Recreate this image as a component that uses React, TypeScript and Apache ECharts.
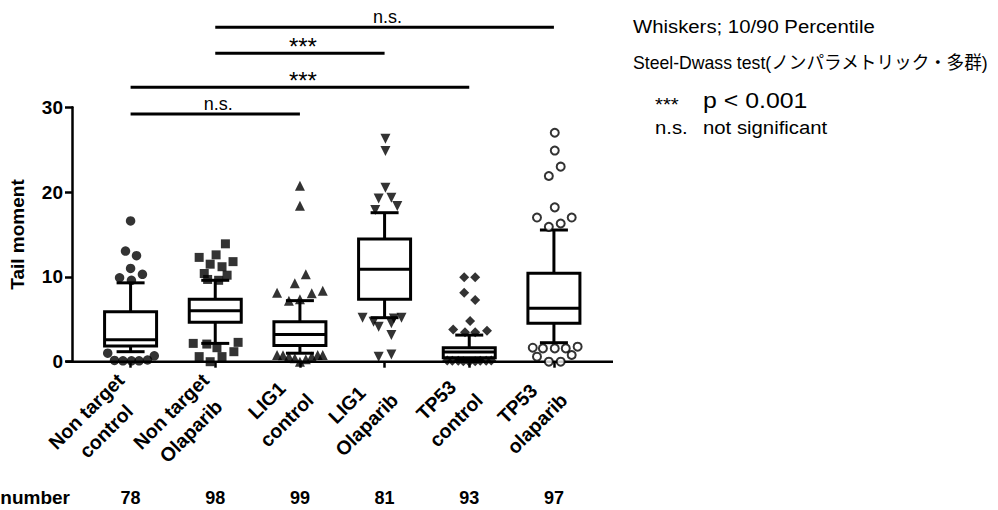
import React, { useEffect, useRef } from "react";
import * as echarts from "echarts";

const FONT = "'Liberation Sans', Arial, 'Noto Sans CJK JP', sans-serif";

const categories = [
  "Non target\ncontrol",
  "Non target\nOlaparib",
  "LIG1\ncontrol",
  "LIG1\nOlaparib",
  "TP53\ncontrol",
  "TP53\nolaparib",
];
const cellCounts = ["78", "98", "99", "81", "93", "97"];
const yMin = 0;
const yMax = 30;
const yInterval = 10;

// [10th percentile, Q1, median, Q3, 90th percentile]
const boxStats = [
  [1.18, 1.85, 2.6, 5.9, 9.3],
  [2.16, 4.64, 6.0, 7.35, 9.6],
  [1.0, 1.9, 3.2, 4.7, 7.2],
  [5.19, 7.35, 10.9, 14.47, 17.57],
  [0.2, 0.47, 1.14, 1.65, 3.14],
  [2.24, 4.52, 6.29, 10.42, 15.53],
];

// outliers: [horizontal jitter (fraction of category), value]
const ntControlOut = [
  [0, 16.6], [-0.06, 13.05], [0.07, 12.5], [0, 11.0], [0.14, 10.3], [-0.13, 9.9], [0.01, 9.6],
  [-0.27, 1.0], [0.28, 0.7], [-0.19, 0.15], [-0.09, 0.1], [0.01, 0.1], [0.1, 0.1], [0.2, 0.2],
];
const ntOlaparibOut = [
  [0.12, 13.9], [-0.19, 12.3], [0.01, 12.6], [-0.06, 11.5], [0.08, 11.2], [0.21, 11.8], [-0.13, 10.4],
  [0.14, 10.2], [-0.09, 9.7], [0.04, 9.6], [-0.26, 2.16], [-0.1, 2.08], [0.27, 2.28], [0.02, 1.65],
  [0.22, 1.18], [-0.19, 0.6], [0.08, 0.6], [-0.06, 0.0],
];
const lig1ControlOut = [
  [0, 20.75], [0, 18.4], [0.07, 10.3], [-0.06, 9.24], [-0.27, 8.14], [0.14, 8.06], [0.27, 8.37],
  [-0.13, 7.2], [0, 7.35], [-0.27, 0.8], [-0.2, 0.75], [-0.13, 0.6], [-0.06, 0.4], [0, 0.0],
  [0.07, 0.3], [0.14, 0.6], [0.21, 0.8], [0.27, 0.8],
];
const lig1OlaparibOut = [
  [0.01, 26.3], [0.01, 24.85], [0.01, 20.5], [-0.07, 19.26], [0.08, 19.34], [0.15, 18.36], [-0.11, 17.9],
  [-0.26, 5.19], [0.2, 5.19], [-0.13, 4.72], [-0.07, 4.13], [0.08, 4.52], [0.11, 5.1], [0.08, 3.14],
  [-0.07, 0.59], [0.08, 0.86],
];
const tp53ControlOut = [
  [-0.06, 9.95], [0.07, 9.95], [-0.06, 8.14], [0.07, 7.27], [0.01, 4.8], [-0.19, 3.81], [0.21, 3.66],
  [-0.05, 3.46], [0.07, 3.46], [-0.26, 0.15], [-0.2, 0.1], [-0.13, 0.1], [-0.07, 0.05], [0, 0.0],
  [0.07, 0.05], [0.13, 0.1], [0.2, 0.1], [0.26, 0.15],
];
const tp53OlaparibOut = [
  [0.01, 27.0], [0.01, 24.9], [0.08, 23.0], [-0.06, 21.9], [0.01, 18.2], [-0.2, 17.0], [0.21, 17.0],
  [0.08, 16.3], [-0.06, 15.9], [-0.25, 1.65], [-0.13, 1.57], [0.01, 1.57], [0.14, 1.57], [0.28, 1.77],
  [-0.2, 0.59], [0.21, 0.79], [-0.06, 0.0], [0.08, 0.0],
];
const outlierGroups = [ntControlOut, ntOlaparibOut, lig1ControlOut, lig1OlaparibOut, tp53ControlOut, tp53OlaparibOut];

// significance comparisons: [from category, to category, bar level, label]
const sigFrom = [0, 0, 1, 1];
const sigTo = [2, 4, 3, 5];
const sigLevel = [29.21, 32.36, 36.37, 39.45];
const sigLabel = ["n.s.", "***", "***", "n.s."];

const symbolStyles = [
  { symbol: "circle", symbolSize: 9.5, symbolRotate: 0, itemStyle: { color: "#000" } },
  { symbol: "rect", symbolSize: 9, symbolRotate: 0, itemStyle: { color: "#000" } },
  { symbol: "triangle", symbolSize: 10, symbolRotate: 0, itemStyle: { color: "#000" } },
  { symbol: "triangle", symbolSize: 10, symbolRotate: 180, itemStyle: { color: "#000" } },
  { symbol: "diamond", symbolSize: 10, symbolRotate: 0, itemStyle: { color: "#000" } },
  { symbol: "circle", symbolSize: 8, symbolRotate: 0, itemStyle: { color: "#fff", borderColor: "#000", borderWidth: 2 } },
];

export default function App() {
  const ref = useRef<HTMLDivElement>(null);
  useEffect(() => {
    if (!ref.current) return;
    const chart = echarts.init(ref.current, null, { renderer: "svg" });
    const option: any = {
      animation: false,
      backgroundColor: "#fff",
      grid: { left: 83.25, top: 107.3, width: 513, height: 254.4, containLabel: false },
      xAxis: [
        {
          type: "category",
          data: categories,
          boundaryGap: true,
          axisLine: { show: false, onZero: false },
          axisTick: { show: true, alignWithLabel: true, length: 6, lineStyle: { color: "#000", width: 2.5 } },
          axisLabel: {
            interval: 0,
            rotate: 45,
            margin: 25,
            color: "#000",
            formatter: (v: string) => v.split("\n").map((s) => `{c|${s}}`).join("\n"),
            rich: {
              c: { align: "center", fontSize: 19.5, fontWeight: "bold", fontFamily: FONT, color: "#000", lineHeight: 28 },
            },
          },
          splitLine: { show: false },
        },
        {
          type: "category",
          data: cellCounts,
          position: "bottom",
          offset: 119,
          axisLine: { show: false, onZero: false },
          axisTick: { show: false },
          axisLabel: { interval: 0, fontSize: 18, fontWeight: "bold", fontFamily: FONT, color: "#000", margin: 8 },
          splitLine: { show: false },
        },
        { type: "value", min: -0.5, max: 5.5, show: false, axisLine: { onZero: false } },
      ],
      yAxis: {
        type: "value",
        min: yMin,
        max: yMax,
        interval: yInterval,
        offset: 16.25,
        axisLine: { show: true, onZero: false, lineStyle: { color: "#000", width: 2.5 } },
        axisTick: { show: true, length: 7, lineStyle: { color: "#000", width: 2.5 } },
        axisLabel: { fontSize: 19, fontWeight: "bold", fontFamily: FONT, color: "#000", margin: 9 },
        splitLine: { show: false },
        name: "Tail moment",
        nameLocation: "middle",
        nameGap: 45,
        nameTextStyle: { fontSize: 19, fontWeight: "bold", fontFamily: FONT, color: "#000" },
      },
      series: [
        {
          type: "custom",
          xAxisIndex: 0,
          yAxisIndex: 0,
          data: boxStats.map((s, i) => [i, ...s]),
          encode: { x: 0, y: [1, 2, 3, 4, 5] },
          z: 2,
          renderItem: (params: any, api: any) => {
            const i = api.value(0);
            const pt = (k: number) => api.coord([i, api.value(k)]);
            const [cx, yLo] = pt(1);
            const yQ1 = pt(2)[1];
            const yMed = pt(3)[1];
            const yQ3 = pt(4)[1];
            const yHi = pt(5)[1];
            const hw = 26;
            const cw = 14;
            const st = { stroke: "#000", lineWidth: 3, fill: null };
            return {
              type: "group",
              children: [
                { type: "line", shape: { x1: cx, y1: yHi, x2: cx, y2: yQ3 }, style: st },
                { type: "line", shape: { x1: cx, y1: yQ1, x2: cx, y2: yLo }, style: st },
                { type: "line", shape: { x1: cx - cw, y1: yHi, x2: cx + cw, y2: yHi }, style: st },
                { type: "line", shape: { x1: cx - cw, y1: yLo, x2: cx + cw, y2: yLo }, style: st },
                { type: "rect", shape: { x: cx - hw, y: yQ3, width: 2 * hw, height: yQ1 - yQ3 }, style: { stroke: "#000", lineWidth: 3, fill: "#fff" } },
                { type: "line", shape: { x1: cx - hw, y1: yMed, x2: cx + hw, y2: yMed }, style: st },
              ],
            };
          },
        },
        ...outlierGroups.map((pts, gi) => ({
          type: "scatter",
          xAxisIndex: 2,
          yAxisIndex: 0,
          clip: false,
          z: 3,
          symbol: symbolStyles[gi].symbol,
          symbolSize: symbolStyles[gi].symbolSize,
          symbolRotate: symbolStyles[gi].symbolRotate,
          itemStyle: symbolStyles[gi].itemStyle,
          data: pts.map(([dx, v]) => [gi + dx, v]),
        })),
      ],
    };
    chart.setOption(option);

    const toPx = (x: number, y: number) => chart.convertToPixel({ xAxisIndex: 2, yAxisIndex: 0 } as any, [x, y]) as number[];
    const y0 = toPx(0, 0)[1];
    const graphics: any[] = [];
    // x axis line (extends past the category band like the original)
    graphics.push({ type: "line", shape: { x1: 66, y1: y0, x2: 613, y2: y0 }, style: { stroke: "#000", lineWidth: 2.5 } });
    sigFrom.forEach((f, k) => {
      const [x1, yy] = toPx(f, sigLevel[k]);
      const [x2] = toPx(sigTo[k], sigLevel[k]);
      graphics.push({ type: "line", shape: { x1, y1: yy, x2, y2: yy }, style: { stroke: "#000", lineWidth: 3 } });
      const isStar = sigLabel[k] === "***";
      graphics.push({
        type: "text",
        x: (x1 + x2) / 2 + 3,
        y: isStar ? yy - 7 : yy - 10,
        style: {
          text: sigLabel[k],
          fontSize: isStar ? 24 : 18,
          fontFamily: FONT,
          fill: "#000",
          textAlign: "center",
          textVerticalAlign: "middle",
        },
      });
    });
    const legendText = (text: string, x: number, y: number, size: number, sx: number) => ({
      type: "text",
      x,
      y,
      scaleX: sx,
      style: { text, fontSize: size, fontFamily: FONT, fill: "#000", textAlign: "left", textVerticalAlign: "middle" },
    });
    graphics.push(legendText("Whiskers; 10/90 Percentile", 633, 27, 18, 1.13));
    graphics.push(legendText("Steel-Dwass test(ノンパラメトリック・多群)", 633, 63, 18, 0.98));
    graphics.push(legendText("***", 655, 105, 18, 1.13));
    graphics.push(legendText("p < 0.001", 703, 101, 22, 1.13));
    graphics.push(legendText("n.s.", 655, 128, 18, 1.13));
    graphics.push(legendText("not significant", 703, 128, 18, 1.13));
    graphics.push({
      type: "text",
      x: 70,
      y: 497,
      style: { text: "number", fontSize: 19, fontWeight: "bold", fontFamily: FONT, fill: "#000", textAlign: "right", textVerticalAlign: "middle" },
    });
    chart.setOption({ graphic: graphics });

    return () => chart.dispose();
  }, []);
  return <div ref={ref} style={{ position: "absolute", left: 0, top: 0, width: 998, height: 510 }} />;
}
